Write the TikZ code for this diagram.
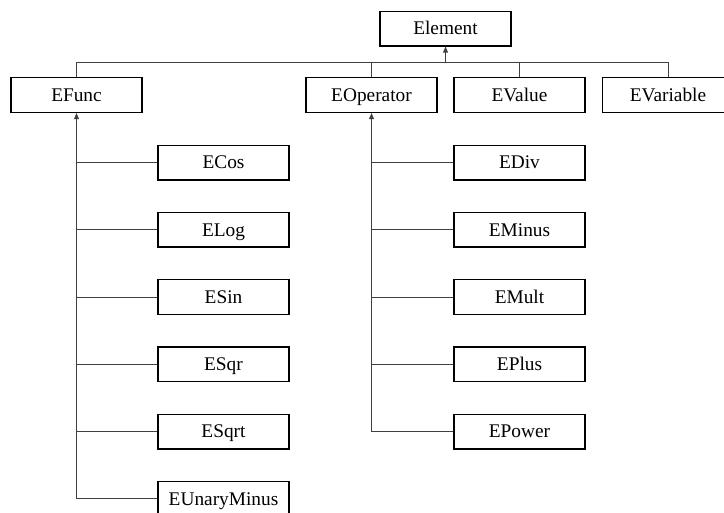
\documentclass[tikz,border=0pt]{standalone}
\usepackage{fontspec}
\setmainfont{Liberation Serif}
\usetikzlibrary{arrows.meta}
\begin{document}
\begin{tikzpicture}[x=0.75pt,y=-0.75pt,
  cls/.style={draw=black,line width=1.1pt,fill=white,minimum width=98.25pt,minimum height=25.9pt,inner sep=0pt,text height=9.6pt,text depth=0pt,font=\fontsize{14.5pt}{17pt}\selectfont},
  conn/.style={draw=black!75,line width=0.75pt},
  tipin/.style={{Triangle[length=4.5pt,width=3.6pt]}-}]
\useasboundingbox (0,0) rectangle (724,512);
\node[cls] (element) at (445.5,28.5) {Element};
\node[cls] (efunc) at (76.5,95) {EFunc};
\node[cls] (eoperator) at (371.5,95) {EOperator};
\node[cls] (evalue) at (519.5,95) {EValue};
\node[cls] (evariable) at (668,95) {EVariable};
\coordinate (bus) at (0,62);
% EFunc children
\node[cls] (ecos) at (223.5,162.5) {ECos};
\node[cls] (elog) at (223.5,229.75) {ELog};
\node[cls] (esin) at (223.5,297) {ESin};
\node[cls] (esqr) at (223.5,364.25) {ESqr};
\node[cls] (esqrt) at (223.5,431.5) {ESqrt};
\node[cls] (eunary) at (223.5,498.75) {EUnaryMinus};
% EOperator children
\node[cls] (ediv) at (519.5,162.5) {EDiv};
\node[cls] (eminus) at (519.5,229.75) {EMinus};
\node[cls] (emult) at (519.5,297) {EMult};
\node[cls] (eplus) at (519.5,364.25) {EPlus};
\node[cls] (epower) at (519.5,431.5) {EPower};
% top level
\draw[conn] (efunc.north) -- (efunc.north |- bus) -- (evariable.north |- bus) -- (evariable.north);
\draw[conn] (eoperator.north |- bus) -- (eoperator.north);
\draw[conn] (evalue.north |- bus) -- (evalue.north);
\draw[conn,tipin] (element.south) -- (element.south |- bus);
% EFunc tree
\draw[conn,tipin] (efunc.south) -- (efunc.south |- eunary.west);
\foreach \n in {ecos,elog,esin,esqr,esqrt,eunary}
  \draw[conn] (efunc.south |- \n.west) -- (\n.west);
% EOperator tree
\draw[conn,tipin] (eoperator.south) -- (eoperator.south |- epower.west);
\foreach \n in {ediv,eminus,emult,eplus,epower}
  \draw[conn] (eoperator.south |- \n.west) -- (\n.west);
\end{tikzpicture}
\end{document}
